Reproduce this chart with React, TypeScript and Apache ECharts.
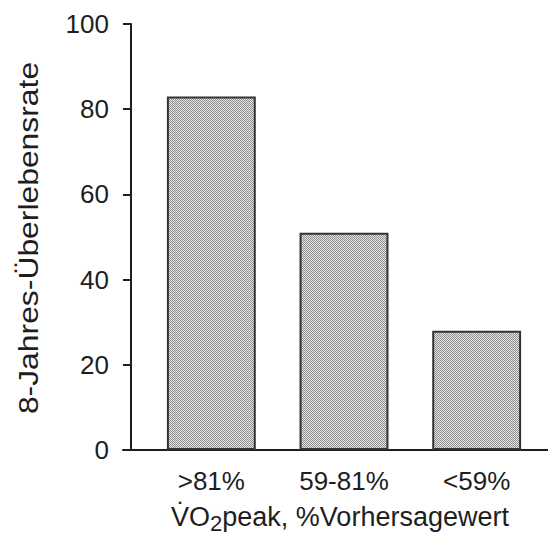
import React, { useEffect, useRef } from "react";
import * as echarts from "echarts";

const categories = [">81%", "59-81%", "<59%"];
const survivalRates = [83, 51, 28];
const yAxisTitle = "8-Jahres-Überlebensrate";
const xAxisTitle = "V\u0307O{sub|2}peak, %Vorhersagewert";

const FONT = '"Liberation Sans", Arial, Helvetica, sans-serif';
const INK = "#1e1e1e";

function makePattern(): string {
  const c = document.createElement("canvas");
  c.width = 2;
  c.height = 2;
  const ctx = c.getContext("2d")!;
  ctx.fillStyle = "#e4e4e4";
  ctx.fillRect(0, 0, 2, 2);
  ctx.fillStyle = "#8e8e8e";
  ctx.fillRect(0, 0, 1, 1);
  ctx.fillRect(1, 1, 1, 1);
  return c.toDataURL();
}

export default function App() {
  const ref = useRef<HTMLDivElement>(null);
  useEffect(() => {
    if (!ref.current) return;
    const chart = echarts.init(ref.current, null, { renderer: "svg", width: 548, height: 536 });
    const pattern = makePattern();
    chart.setOption({
      animation: false,
      backgroundColor: "#fff",
      grid: [
        { left: 145, right: 5, top: 24, bottom: 86, containLabel: false, outerBoundsMode: "none" },
        { left: 123, right: 0, top: 24, bottom: 86, containLabel: false, outerBoundsMode: "none" },
      ],
      xAxis: [
        {
          type: "category",
          gridIndex: 0,
          data: categories,
          axisLine: { show: false },
          axisTick: { show: false },
          axisLabel: { margin: 18, fontSize: 26, color: INK, fontFamily: FONT },
          name: xAxisTitle,
          nameLocation: "middle",
          nameGap: 49,
          nameTextStyle: {
            fontSize: 27,
            color: INK,
            fontFamily: FONT,
            padding: [0, 8, 0, 0],
            rich: {
              sub: {
                fontSize: 22,
                color: INK,
                fontFamily: FONT,
                verticalAlign: "top",
                padding: [13, 0, 0, 0],
              },
            },
          },
        },
        {
          type: "value",
          gridIndex: 1,
          min: 0,
          max: 1,
          axisLine: { show: true, lineStyle: { color: INK, width: 2 } },
          axisTick: { show: false },
          axisLabel: { show: false },
          splitLine: { show: false },
        },
      ],
      yAxis: [
        {
          type: "value",
          gridIndex: 0,
          min: 0,
          max: 100,
          interval: 20,
          offset: 14,
          axisLine: { show: true, lineStyle: { color: INK, width: 2 } },
          axisTick: { show: true, inside: false, length: 8, lineStyle: { color: INK, width: 2 } },
          axisLabel: { margin: 22, fontSize: 26, color: INK, fontFamily: FONT },
          splitLine: { show: false },
        },
        { type: "value", gridIndex: 1, show: false },
      ],
      graphic: [
        {
          type: "text",
          x: 28,
          y: 238,
          rotation: Math.PI / 2,
          scaleX: 1.18,
          style: {
            text: yAxisTitle,
            fontSize: 27,
            fontFamily: FONT,
            fill: INK,
            align: "center",
            verticalAlign: "middle",
          },
        },
      ],
      series: [
        {
          type: "bar",
          xAxisIndex: 0,
          yAxisIndex: 0,
          data: survivalRates,
          barWidth: "67%",
          itemStyle: {
            color: { image: pattern, repeat: "repeat" },
            borderColor: "#333",
            borderWidth: 2,
          },
        },
      ],
    });
    return () => chart.dispose();
  }, []);
  return (
    <div
      ref={ref}
      style={{ width: 548, height: 536, position: "absolute", left: 0, top: 0 }}
    />
  );
}
